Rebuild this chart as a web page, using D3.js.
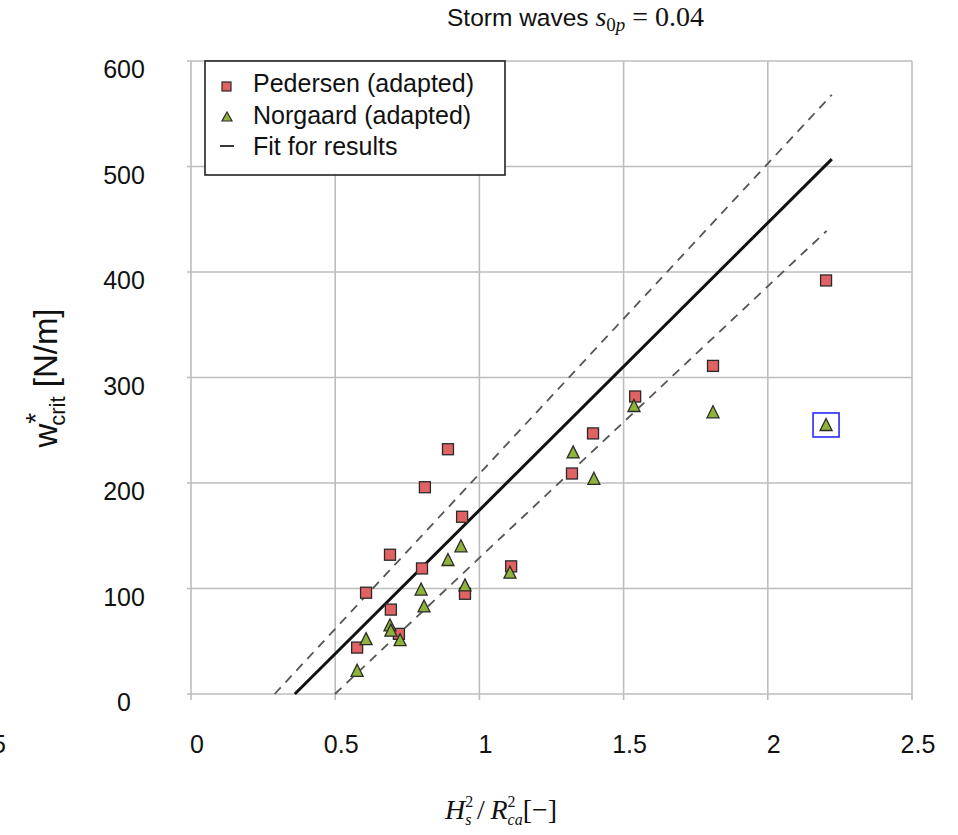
<!DOCTYPE html>
<html>
<head>
<meta charset="utf-8">
<script src="https://cdn.jsdelivr.net/npm/d3@7"></script>
<style>
  html, body { margin: 0; padding: 0; background: #fff; }
  svg { display: block; }
</style>
</head>
<body>
<svg id="chart" width="958" height="835"></svg>
<script>
// ---- data ----
const xTicks = [0, 0.5, 1, 1.5, 2, 2.5];
const xTickLabels = ["0", "0.5", "1", "1.5", "2", "2.5"];
const yTicks = [0, 100, 200, 300, 400, 500, 600];
const yTickLabels = ["0", "100", "200", "300", "400", "500", "600"];

const pedersenX = [0.576, 0.607, 0.690, 0.693, 0.721, 0.801, 0.811, 0.891, 0.940, 0.950, 1.110, 1.321, 1.394, 1.540, 1.810, 2.202];
const pedersenY = [44, 96, 132, 80, 57, 119, 196, 232, 168, 95, 121, 209, 247, 282, 311, 392];

const norgaardX = [0.576, 0.607, 0.690, 0.693, 0.725, 0.798, 0.808, 0.891, 0.936, 0.950, 1.106, 1.325, 1.397, 1.536, 1.810, 2.202];
const norgaardY = [22, 52, 65, 60, 51, 99, 83, 127, 140, 103, 115, 229, 204, 273, 267, 255];

const fitX = [0.36, 2.222];
const fitY = [0, 507];
const upperX = [0.29, 2.222];
const upperY = [0, 568];
const lowerX = [0.499, 2.204];
const lowerY = [0, 439];

const highlightX = [2.202];
const highlightY = [255];

const legendLabels = ["Pedersen (adapted)", "Norgaard (adapted)", "Fit for results"];

// ---- drawing ----
const svg = d3.select("#chart");
const x = d3.scaleLinear().domain([0, 2.5]).range([191, 912]);
const y = d3.scaleLinear().domain([0, 600]).range([694, 61]);

const gridColor = "#bdbdbd";
const sans = "'Liberation Sans', Arial, Helvetica, sans-serif";
const serif = "'Liberation Serif', 'DejaVu Serif', 'Times New Roman', serif";

// grid
svg.append("g").selectAll("line.h").data(yTicks).join("line")
  .attr("x1", x(0) - 4).attr("x2", x(2.5))
  .attr("y1", d => y(d)).attr("y2", d => y(d))
  .attr("stroke", gridColor).attr("stroke-width", 1.6);
svg.append("g").selectAll("line.v").data(xTicks).join("line")
  .attr("x1", d => x(d)).attr("x2", d => x(d))
  .attr("y1", y(600)).attr("y2", y(0) + 6)
  .attr("stroke", gridColor).attr("stroke-width", 1.6);

// tick labels
svg.append("g").selectAll("text").data(xTicks).join("text")
  .attr("x", d => x(d) + 6).attr("y", 753)
  .attr("text-anchor", "middle")
  .attr("font-family", sans).attr("font-size", 25).attr("fill", "#111")
  .text((d, i) => xTickLabels[i]);
svg.append("g").selectAll("text").data(yTicks).join("text")
  .attr("x", 124).attr("y", d => y(d) + 17)
  .attr("text-anchor", "middle")
  .attr("font-family", sans).attr("font-size", 25).attr("fill", "#111")
  .text((d, i) => yTickLabels[i]);

// cut-off fragment at left edge (as in the reference)
svg.append("text").attr("x", 6).attr("y", 753).attr("text-anchor", "end")
  .attr("font-family", sans).attr("font-size", 25).attr("fill", "#111").text("5");

// fit lines
const line = d3.line().x(d => x(d[0])).y(d => y(d[1]));
svg.append("path").datum(upperX.map((v, i) => [v, upperY[i]]))
  .attr("d", line).attr("fill", "none").attr("stroke", "#555")
  .attr("stroke-width", 1.8).attr("stroke-dasharray", "9,7");
svg.append("path").datum(lowerX.map((v, i) => [v, lowerY[i]]))
  .attr("d", line).attr("fill", "none").attr("stroke", "#555")
  .attr("stroke-width", 1.8).attr("stroke-dasharray", "9,7");
svg.append("path").datum(fitX.map((v, i) => [v, fitY[i]]))
  .attr("d", line).attr("fill", "none").attr("stroke", "#111")
  .attr("stroke-width", 3);

// markers
const sqColor = "#e06262";
const trColor = "#8fb23a";
const mStroke = "#2a2a2a";
const sq = 11;
const triPath = (cx, cy) => {
  const w = 12, h = 11;
  return `M${cx},${cy - h / 2 - 1}L${cx + w / 2},${cy + h / 2}L${cx - w / 2},${cy + h / 2}Z`;
};

svg.append("g").selectAll("rect").data(pedersenX.map((v, i) => [v, pedersenY[i]])).join("rect")
  .attr("x", d => x(d[0]) - sq / 2).attr("y", d => y(d[1]) - sq / 2)
  .attr("width", sq).attr("height", sq)
  .attr("fill", sqColor).attr("stroke", mStroke).attr("stroke-width", 1.3);

svg.append("g").selectAll("path").data(norgaardX.map((v, i) => [v, norgaardY[i]])).join("path")
  .attr("d", d => triPath(x(d[0]), y(d[1])))
  .attr("fill", trColor).attr("stroke", mStroke).attr("stroke-width", 1.3);

// highlight box
svg.append("g").selectAll("rect").data(highlightX.map((v, i) => [v, highlightY[i]])).join("rect")
  .attr("x", d => x(d[0]) - 13).attr("y", d => y(d[1]) - 12)
  .attr("width", 26).attr("height", 24)
  .attr("fill", "none").attr("stroke", "#2a2aff").attr("stroke-width", 1.6);

// legend
const lg = svg.append("g");
lg.append("rect").attr("x", 205).attr("y", 61).attr("width", 300).attr("height", 114)
  .attr("fill", "#fff").attr("stroke", "#222").attr("stroke-width", 1.6);
const rowsY = [92, 124, 155];
lg.selectAll("text").data(legendLabels).join("text")
  .attr("x", 253).attr("y", (d, i) => rowsY[i])
  .attr("font-family", sans).attr("font-size", 25).attr("fill", "#111")
  .text(d => d);
lg.append("rect").attr("x", 222).attr("y", 82).attr("width", 9).attr("height", 9)
  .attr("fill", sqColor).attr("stroke", mStroke).attr("stroke-width", 1.2);
lg.append("path").attr("d", `M227,112L232,121L222,121Z`)
  .attr("fill", trColor).attr("stroke", mStroke).attr("stroke-width", 1.2);
lg.append("line").attr("x1", 220).attr("x2", 234).attr("y1", 146).attr("y2", 146)
  .attr("stroke", "#222").attr("stroke-width", 1.8);

// title
const t = svg.append("text").attr("x", 447).attr("y", 26)
  .attr("font-family", sans).attr("font-size", 24.5).attr("fill", "#111");
t.append("tspan").text("Storm waves ");
t.append("tspan").attr("font-family", serif).attr("font-style", "italic").attr("font-size", 28).text("s");
t.append("tspan").attr("font-family", serif).attr("font-size", 19).attr("dy", 5).text("0");
t.append("tspan").attr("font-family", serif).attr("font-style", "italic").attr("font-size", 19).text("p");
t.append("tspan").attr("font-family", serif).attr("font-size", 28).attr("dy", -5).text(" = 0.04");

// y axis label
const yl = svg.append("text")
  .attr("transform", "translate(57,378) rotate(-90)")
  .attr("text-anchor", "middle")
  .attr("font-family", sans).attr("font-size", 33).attr("fill", "#111");
yl.append("tspan").text("w");
yl.append("tspan").attr("font-size", 28).attr("dy", -12).text("*");
yl.append("tspan").attr("font-size", 22).attr("dx", -13).attr("dy", 20).text("crit");
yl.append("tspan").attr("dy", -8).text(" [N/m]");

// x axis label
const xl = svg.append("text").attr("x", 445).attr("y", 819)
  .attr("font-family", serif).attr("font-size", 28).attr("fill", "#111");
xl.append("tspan").attr("font-style", "italic").text("H");
xl.append("tspan").attr("font-size", 16).attr("dy", -12).text("2");
xl.append("tspan").attr("font-size", 16).attr("font-style", "italic").attr("dx", -8).attr("dy", 18).text("s");
xl.append("tspan").attr("dy", -6).text("\u2009/\u2009");
xl.append("tspan").attr("font-style", "italic").text("R");
xl.append("tspan").attr("font-size", 16).attr("dy", -12).text("2");
xl.append("tspan").attr("font-size", 16).attr("font-style", "italic").attr("dx", -8).attr("dy", 18).text("ca");
xl.append("tspan").attr("dy", -6).text("[−]");
</script>
</body>
</html>
